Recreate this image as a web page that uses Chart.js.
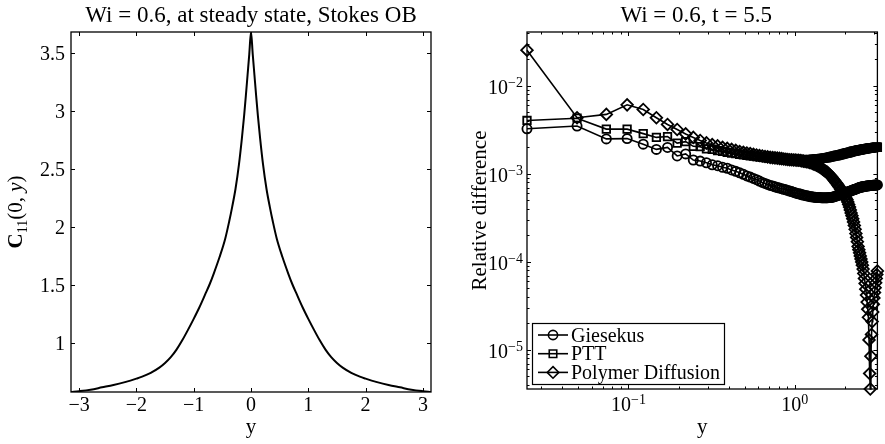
<!DOCTYPE html>
<html>
<head>
<meta charset="utf-8">
<script src="https://cdn.jsdelivr.net/npm/chart.js@4/dist/chart.umd.min.js"></script>
<style>
  html,body{margin:0;padding:0;background:#fff;}
  #wrap{position:relative;width:885px;height:444px;overflow:hidden;}
  canvas{position:absolute;top:0;}
</style>
</head>
<body>
<div id="wrap">
  <canvas id="c1" width="445" height="444" style="left:0"></canvas>
  <canvas id="c2" width="440" height="444" style="left:445px"></canvas>
</div>
<script>
// ---------------- Left panel data ----------------
const leftTitle = 'Wi = 0.6, at steady state, Stokes OB';
const leftPos = [-3.1416,-3.0,-2.8,-2.6,-2.4,-2.2,-2.0,-1.9,-1.75,-1.6,-1.5,-1.4,-1.3,-1.2,-1.1,-1.0,-0.9,-0.8,-0.72,-0.65,-0.55,-0.45,-0.38,-0.33,-0.27,-0.21,-0.16,-0.12,-0.09,-0.06,-0.03,
  0,
  0.03,0.06,0.09,0.12,0.16,0.21,0.27,0.33,0.38,0.45,0.55,0.65,0.72,0.8,0.9,1.0,1.1,1.2,1.3,1.4,1.5,1.6,1.75,1.9,2.0,2.2,2.4,2.6,2.8,3.0,3.1416];
const leftC11 = [0.580,0.587,0.60,0.62,0.64,0.665,0.695,0.712,0.745,0.79,0.83,0.88,0.945,1.025,1.115,1.21,1.31,1.42,1.51,1.60,1.74,1.90,2.05,2.17,2.33,2.54,2.76,2.96,3.13,3.31,3.49,
  3.68,
  3.49,3.31,3.13,2.96,2.76,2.54,2.33,2.17,2.05,1.90,1.74,1.60,1.51,1.42,1.31,1.21,1.115,1.025,0.945,0.88,0.83,0.79,0.745,0.712,0.695,0.665,0.64,0.62,0.60,0.587,0.580];
const leftXTicks = [-3,-2,-1,0,1,2,3];
const leftXLabels = ['\u22123','\u22122','\u22121','0','1','2','3'];
const leftYTicks = [1,1.5,2,2.5,3,3.5];
const leftYLabels = ['1','1.5','2','2.5','3','3.5'];

// ---------------- Right panel data ----------------
const rightTitle = 'Wi = 0.6, t = 5.5';
const nGrid = 128; // grid points y_j = j*pi/128
const gridY = Array.from({length:nGrid},(_,i)=>(i+1)*Math.PI/nGrid);
const seriesNames = ['Giesekus','PTT','Polymer Diffusion'];
const giesekus = [
3.26e-3,3.5e-3,2.5e-3,2.52e-3,2.18e-3,1.9e-3,2.0e-3,1.6e-3,1.69e-3,1.44e-3,
1.40e-3,1.34e-3,1.27e-3,1.24e-3,1.19e-3,1.16e-3,1.11e-3,1.07e-3,1.03e-3,9.9e-4,
9.5e-4,9.2e-4,8.9e-4,8.6e-4,8.3e-4,8.0e-4,7.8e-4,7.6e-4,7.4e-4,7.3e-4,
7.15e-4,7.0e-4,6.9e-4,6.8e-4,6.7e-4,6.6e-4,6.5e-4,6.4e-4,6.3e-4,6.2e-4,
6.1e-4,6.0e-4,5.95e-4,5.9e-4,5.8e-4,5.75e-4,5.7e-4,5.65e-4,5.6e-4,5.55e-4,
5.5e-4,5.5e-4,5.45e-4,5.45e-4,5.4e-4,5.4e-4,5.4e-4,5.4e-4,5.35e-4,5.35e-4,
5.35e-4,5.35e-4,5.35e-4,5.35e-4,5.4e-4,5.4e-4,5.4e-4,5.45e-4,5.45e-4,5.5e-4,
5.55e-4,5.6e-4,5.65e-4,5.7e-4,5.75e-4,5.8e-4,5.85e-4,5.9e-4,5.95e-4,6.0e-4,
6.05e-4,6.1e-4,6.15e-4,6.2e-4,6.25e-4,6.3e-4,6.35e-4,6.4e-4,6.45e-4,6.5e-4,
6.55e-4,6.6e-4,6.65e-4,6.7e-4,6.75e-4,6.8e-4,6.85e-4,6.9e-4,6.95e-4,7.0e-4,
7.05e-4,7.1e-4,7.1e-4,7.15e-4,7.15e-4,7.2e-4,7.2e-4,7.25e-4,7.25e-4,7.3e-4,
7.3e-4,7.3e-4,7.35e-4,7.35e-4,7.35e-4,7.4e-4,7.4e-4,7.4e-4,7.4e-4,7.45e-4,
7.45e-4,7.45e-4,7.45e-4,7.5e-4,7.5e-4,7.5e-4,7.5e-4,7.5e-4];
const ptt = [
4.05e-3,4.3e-3,3.23e-3,3.23e-3,2.87e-3,2.6e-3,2.66e-3,2.24e-3,2.33e-3,2.06e-3,
2.04e-3,1.93e-3,1.9e-3,1.84e-3,1.8e-3,1.76e-3,1.73e-3,1.70e-3,1.67e-3,1.65e-3,
1.63e-3,1.61e-3,1.59e-3,1.57e-3,1.56e-3,1.54e-3,1.53e-3,1.52e-3,1.51e-3,1.50e-3,
1.49e-3,1.48e-3,1.47e-3,1.46e-3,1.45e-3,1.45e-3,1.44e-3,1.44e-3,1.43e-3,1.43e-3,
1.43e-3,1.43e-3,1.43e-3,1.43e-3,1.43e-3,1.44e-3,1.44e-3,1.44e-3,1.45e-3,1.45e-3,
1.46e-3,1.46e-3,1.47e-3,1.47e-3,1.48e-3,1.48e-3,1.49e-3,1.49e-3,1.50e-3,1.50e-3,
1.51e-3,1.52e-3,1.52e-3,1.53e-3,1.54e-3,1.55e-3,1.56e-3,1.57e-3,1.58e-3,1.59e-3,
1.60e-3,1.61e-3,1.62e-3,1.63e-3,1.64e-3,1.65e-3,1.66e-3,1.67e-3,1.68e-3,1.69e-3,
1.70e-3,1.71e-3,1.72e-3,1.73e-3,1.74e-3,1.75e-3,1.76e-3,1.77e-3,1.78e-3,1.79e-3,
1.80e-3,1.81e-3,1.82e-3,1.83e-3,1.83e-3,1.84e-3,1.85e-3,1.86e-3,1.87e-3,1.87e-3,
1.88e-3,1.89e-3,1.89e-3,1.90e-3,1.91e-3,1.91e-3,1.92e-3,1.93e-3,1.93e-3,1.94e-3,
1.94e-3,1.95e-3,1.95e-3,1.96e-3,1.96e-3,1.97e-3,1.97e-3,1.98e-3,1.98e-3,1.99e-3,
1.99e-3,1.99e-3,2.0e-3,2.0e-3,2.0e-3,2.01e-3,2.01e-3,2.01e-3];
const polyDiff = [
2.55e-2,4.35e-3,4.75e-3,6.1e-3,5.4e-3,4.35e-3,3.65e-3,3.2e-3,2.85e-3,2.6e-3,
2.4e-3,2.25e-3,2.15e-3,2.08e-3,2.0e-3,1.95e-3,1.9e-3,1.85e-3,1.8e-3,1.76e-3,
1.73e-3,1.7e-3,1.67e-3,1.64e-3,1.62e-3,1.6e-3,1.58e-3,1.56e-3,1.54e-3,1.53e-3,
1.52e-3,1.51e-3,1.50e-3,1.49e-3,1.48e-3,1.47e-3,1.46e-3,1.45e-3,1.45e-3,1.44e-3,
1.44e-3,1.43e-3,1.43e-3,1.42e-3,1.41e-3,1.40e-3,1.39e-3,1.38e-3,1.37e-3,1.35e-3,
1.34e-3,1.32e-3,1.30e-3,1.28e-3,1.26e-3,1.24e-3,1.22e-3,1.19e-3,1.16e-3,1.13e-3,
1.11e-3,1.08e-3,1.06e-3,1.04e-3,1.01e-3,9.8e-4,9.5e-4,9.2e-4,8.9e-4,8.6e-4,
8.3e-4,8.0e-4,7.8e-4,7.5e-4,7.2e-4,7.0e-4,6.7e-4,6.5e-4,6.2e-4,6.0e-4,
5.8e-4,5.6e-4,5.3e-4,5.1e-4,4.8e-4,4.5e-4,4.2e-4,3.9e-4,3.6e-4,3.35e-4,
3.1e-4,2.85e-4,2.6e-4,2.35e-4,2.1e-4,1.9e-4,1.7e-4,1.5e-4,1.38e-4,1.27e-4,
1.17e-4,1.08e-4,1.0e-4,9.2e-5,8.3e-5,7.4e-5,6.5e-5,5.7e-5,4.9e-5,4.2e-5,
3.5e-5,2.9e-5,2.35e-5,1.3e-5,5.4e-6,3.6e-6,8.5e-6,1.5e-5,2.1e-5,2.7e-5,
3.3e-5,3.9e-5,4.5e-5,5.1e-5,5.8e-5,6.5e-5,7.2e-5,7.9e-5];
const rightXTicks = [0.1, 1];
const rightXExp = ['\u22121','0'];
const rightYTicks = [1e-5,1e-4,1e-3,1e-2];
const rightYExp = ['\u22125','\u22124','\u22123','\u22122'];
const rightYMax = 0.041;

// ---------------- helpers ----------------
const SERIF = "'Liberation Serif','DejaVu Serif',serif";
const FS = 20, SUP = 14, TFS = 23, LFS = 21;

function logMinors(lo, hi){
  const out=[];
  for(let e=Math.floor(Math.log10(lo)); e<=Math.ceil(Math.log10(hi)); e++){
    for(let m=2;m<=9;m++){ const v=m*Math.pow(10,e); if(v>=lo && v<=hi) out.push(v); }
  }
  return out;
}

function frameTicks(chart, xs, ys, xMin, yMin, major, minor){
  const {ctx, chartArea:a, scales} = chart;
  ctx.save();
  ctx.strokeStyle='#000'; ctx.lineWidth=1;
  ctx.beginPath();
  const vx=(v,len)=>{const x=Math.round(scales.x.getPixelForValue(v))+0.5;
    ctx.moveTo(x,a.bottom);ctx.lineTo(x,a.bottom-len);ctx.moveTo(x,a.top);ctx.lineTo(x,a.top+len);};
  const vy=(v,len)=>{const y=Math.round(scales.y.getPixelForValue(v))+0.5;
    ctx.moveTo(a.left,y);ctx.lineTo(a.left+len,y);ctx.moveTo(a.right,y);ctx.lineTo(a.right-len,y);};
  xs.forEach(v=>vx(v,major)); ys.forEach(v=>vy(v,major));
  xMin.forEach(v=>vx(v,minor)); yMin.forEach(v=>vy(v,minor));
  ctx.stroke();
  ctx.lineWidth=1.3;
  ctx.strokeRect(a.left, a.top, a.right-a.left, a.bottom-a.top);
  ctx.restore();
}

// ---------------- Left chart ----------------
const leftPlugin = {
  id:'leftDecor',
  afterDatasetsDraw(chart){
    frameTicks(chart, leftXTicks, leftYTicks, [], [], 4, 2);
  },
  afterDraw(chart){
    const {ctx, chartArea:a, scales} = chart;
    ctx.save();
    ctx.fillStyle='#000';
    ctx.font = TFS+'px '+SERIF; ctx.textAlign='center'; ctx.textBaseline='alphabetic';
    ctx.fillText(leftTitle, (a.left+a.right)/2, 22);
    ctx.font = FS+'px '+SERIF;
    leftXTicks.forEach((v,i)=>{ ctx.textAlign='center'; ctx.fillText(leftXLabels[i], scales.x.getPixelForValue(v), 411); });
    leftYTicks.forEach((v,i)=>{ ctx.textAlign='right'; ctx.fillText(leftYLabels[i], 65, scales.y.getPixelForValue(v)+7); });
    ctx.font = LFS+'px '+SERIF;
    ctx.textAlign='center';
    ctx.fillText('y', (a.left+a.right)/2, 433);
    const parts = [
      {t:'C', f:'bold '+LFS+'px '+SERIF, dy:0},
      {t:'11', f:SUP+'px '+SERIF, dy:5},
      {t:'(0, ', f:LFS+'px '+SERIF, dy:0},
      {t:'y', f:'italic '+LFS+'px '+SERIF, dy:0},
      {t:')', f:LFS+'px '+SERIF, dy:0}];
    let tot=0; parts.forEach(p=>{ctx.font=p.f; p.w=ctx.measureText(p.t).width; tot+=p.w;});
    ctx.translate(22, (a.top+a.bottom)/2); ctx.rotate(-Math.PI/2);
    ctx.textAlign='left';
    let x=-tot/2;
    parts.forEach(p=>{ctx.font=p.f; ctx.fillText(p.t, x, p.dy); x+=p.w;});
    ctx.restore();
  }
};

new Chart(document.getElementById('c1'), {
  type:'line',
  data:{datasets:[{data: leftPos.map((p,i)=>({x:p, y:leftC11[i]})), borderColor:'#000', borderWidth:2, pointRadius:0, cubicInterpolationMode:'monotone', fill:false}]},
  options:{
    responsive:false, animation:false, events:[],
    layout:{padding:{left:0,right:14,top:32,bottom:0}},
    plugins:{legend:{display:false}, tooltip:{enabled:false}, title:{display:false}},
    scales:{
      x:{type:'linear', min:-Math.PI, max:Math.PI, grid:{display:false}, border:{display:false}, ticks:{display:false},
         afterBuildTicks(s){ s.ticks = leftXTicks.map(v=>({value:v})); }, afterFit(s){ s.height=52; }},
      y:{type:'linear', min:Math.min(...leftC11), max:Math.max(...leftC11), grid:{display:false}, border:{display:false}, ticks:{display:false},
         afterBuildTicks(s){ s.ticks = leftYTicks.map(v=>({value:v})); }, afterFit(s){ s.width=71; }}
    }
  },
  plugins:[leftPlugin]
});

// ---------------- Right chart ----------------
const styles = [
  {ps:'circle', r:4.6},
  {ps:'rect', r:5.3},
  {ps:'rectRot', r:5.8}];

function drawMarker(ctx, ps, r, x, y){
  ctx.beginPath();
  if(ps==='circle'){ ctx.arc(x,y,r,0,Math.PI*2); }
  else if(ps==='rect'){ const h=r*Math.SQRT1_2; ctx.rect(x-h,y-h,2*h,2*h); }
  else { ctx.moveTo(x,y-r); ctx.lineTo(x+r,y); ctx.lineTo(x,y+r); ctx.lineTo(x-r,y); ctx.closePath(); }
  ctx.stroke();
}

const rightPlugin = {
  id:'rightDecor',
  afterDatasetsDraw(chart){
    const sx=chart.scales.x, sy=chart.scales.y;
    frameTicks(chart, rightXTicks, rightYTicks, logMinors(sx.min,sx.max), logMinors(sy.min,sy.max), 4, 2.5);
  },
  afterDraw(chart){
    const {ctx, chartArea:a, scales} = chart;
    ctx.save();
    ctx.fillStyle='#000'; ctx.strokeStyle='#000';
    ctx.font = TFS+'px '+SERIF; ctx.textAlign='center'; ctx.textBaseline='alphabetic';
    ctx.fillText(rightTitle, (a.left+a.right)/2 - 6, 22);
    ctx.textAlign='left';
    rightXTicks.forEach((v,i)=>{
      ctx.font=FS+'px '+SERIF; const w1=ctx.measureText('10').width;
      ctx.font=SUP+'px '+SERIF; const w2=ctx.measureText(rightXExp[i]).width;
      const x0 = scales.x.getPixelForValue(v) - (w1+w2)/2;
      ctx.font=FS+'px '+SERIF; ctx.fillText('10', x0, 411);
      ctx.font=SUP+'px '+SERIF; ctx.fillText(rightXExp[i], x0+w1, 404);
    });
    rightYTicks.forEach((v,i)=>{
      ctx.font=FS+'px '+SERIF; const w1=ctx.measureText('10').width;
      ctx.font=SUP+'px '+SERIF; const w2=ctx.measureText(rightYExp[i]).width;
      const y=scales.y.getPixelForValue(v);
      const xr = a.left - 4;
      ctx.font=FS+'px '+SERIF; ctx.fillText('10', xr-w2-w1, y+8);
      ctx.font=SUP+'px '+SERIF; ctx.fillText(rightYExp[i], xr-w2, y+1);
    });
    ctx.font=LFS+'px '+SERIF; ctx.textAlign='center';
    ctx.fillText('y', (a.left+a.right)/2, 433);
    ctx.save();
    ctx.translate(41, (a.top+a.bottom)/2); ctx.rotate(-Math.PI/2);
    ctx.fillText('Relative difference', 0, 0);
    ctx.restore();
    // legend
    const lx=87, ly=323, lw=192, lh=61;
    ctx.fillStyle='#fff'; ctx.fillRect(lx,ly,lw,lh);
    ctx.lineWidth=1.2; ctx.strokeRect(lx+0.5,ly+0.5,lw,lh);
    ctx.fillStyle='#000';
    ctx.font=FS+'px '+SERIF; ctx.textAlign='left';
    seriesNames.forEach((n,i)=>{
      const cy = ly + 12 + i*18.7;
      ctx.lineWidth=1.6;
      ctx.beginPath(); ctx.moveTo(lx+6, cy); ctx.lineTo(lx+36, cy); ctx.stroke();
      drawMarker(ctx, styles[i].ps, styles[i].r, lx+21, cy);
      ctx.fillText(n, lx+39, cy+6.5);
    });
    ctx.restore();
  }
};

const allSeries = [giesekus, ptt, polyDiff];
new Chart(document.getElementById('c2'), {
  type:'line',
  data:{datasets: allSeries.map((s,k)=>({
    label: seriesNames[k],
    data: s.map((v,i)=>({x:gridY[i], y:v})),
    borderColor:'#000', borderWidth:1.6, tension:0, fill:false, clip:false,
    pointStyle: styles[k].ps, pointRadius: styles[k].r, pointBorderWidth:1.8,
    pointBorderColor:'#000', pointBackgroundColor:'rgba(0,0,0,0)'
  }))},
  options:{
    responsive:false, animation:false, events:[],
    layout:{padding:{left:0,right:2,top:32,bottom:0}},
    plugins:{legend:{display:false}, tooltip:{enabled:false}, title:{display:false}},
    scales:{
      x:{type:'logarithmic', min:gridY[0], max:gridY[nGrid-1], grid:{display:false}, border:{display:false}, ticks:{display:false},
         afterBuildTicks(s){ s.ticks = rightXTicks.map(v=>({value:v})); }, afterFit(s){ s.height=55; }},
      y:{type:'logarithmic', min:Math.min(...polyDiff), max:rightYMax, grid:{display:false}, border:{display:false}, ticks:{display:false},
         afterBuildTicks(s){ s.ticks = rightYTicks.map(v=>({value:v})); }, afterFit(s){ s.width=82; }}
    }
  },
  plugins:[rightPlugin]
});
</script>
</body>
</html>
